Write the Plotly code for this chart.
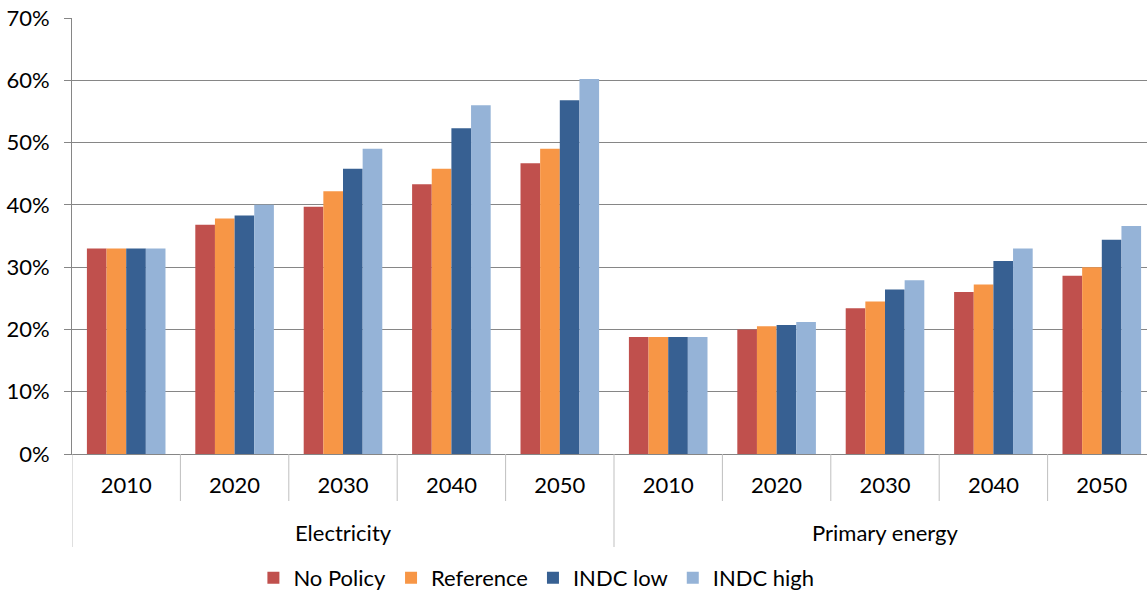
import plotly.graph_objects as go

years = ["2010", "2020", "2030", "2040", "2050"]
groups = ["Electricity", "Primary energy"]
series_names = ["No Policy", "Reference", "INDC low", "INDC high"]

no_policy = [33.0, 36.8, 39.7, 43.3, 46.7, 18.8, 20.0, 23.4, 26.0, 28.6]
reference = [33.0, 37.8, 42.2, 45.8, 49.0, 18.8, 20.5, 24.5, 27.2, 30.0]
indc_low = [33.0, 38.3, 45.8, 52.3, 56.8, 18.8, 20.7, 26.4, 31.0, 34.4]
indc_high = [33.0, 40.0, 49.0, 56.0, 60.2, 18.8, 21.2, 27.9, 33.0, 36.6]

y_ticks = [0, 10, 20, 30, 40, 50, 60, 70]
y_tick_text = [f"{v}%" for v in y_ticks]

colors = ["#C0504D", "#F79646", "#376092", "#95B3D7"]

FONT = "Lato"
W, H = 1147, 592
ML, MT, MB, MR = 72, 18, 138, 0
plot_h = H - MT - MB
cat_w = 108.4
x_end = -0.5 + (W - ML - MR) / cat_w

labels = years + years
xpos = list(range(len(labels)))

fig = go.Figure()
for name, vals, col in zip(series_names, [no_policy, reference, indc_low, indc_high], colors):
    fig.add_trace(go.Bar(
        x=xpos, y=vals, name=name,
        marker=dict(color=col, line=dict(width=0)),
        hovertemplate="%{y:.1f}%<extra>" + name + "</extra>",
    ))

def py(px_y):
    # pixel y (from top of page) -> paper coordinate
    return -(px_y - (H - MB)) / plot_h

shapes = []
grey_sep = "#BFBFBF"
for i in range(len(labels) - 1):
    if i == 4:
        continue
    shapes.append(dict(type="line", xref="x", yref="paper",
                       x0=i + 0.5, x1=i + 0.5, y0=0, y1=py(501),
                       line=dict(color=grey_sep, width=1)))
for xv in [-0.5, 4.5]:
    shapes.append(dict(type="line", xref="x", yref="paper",
                       x0=xv, x1=xv, y0=0, y1=py(547),
                       line=dict(color=grey_sep, width=1)))

annotations = []
for gi, g in enumerate(groups):
    annotations.append(dict(text=g, x=gi * 5 + 2, xref="x", y=py(532), yref="paper",
                            showarrow=False, xanchor="center", yanchor="middle",
                            font=dict(family=FONT, size=22, color="#000000")))

fig.update_layout(
    width=W, height=H,
    margin=dict(l=ML, r=MR, t=MT, b=MB, pad=0),
    paper_bgcolor="white", plot_bgcolor="white",
    barmode="group", bargap=0.275, bargroupgap=0,
    font=dict(family=FONT, size=22, color="#000000"),
    shapes=shapes, annotations=annotations,
    legend=dict(orientation="h", x=0.432, xanchor="center", xref="paper",
                y=(H - 578) / H, yanchor="middle", yref="container",
                font=dict(family=FONT, size=22, color="#000000"),
                itemwidth=30, traceorder="normal", bgcolor="rgba(0,0,0,0)"),
    xaxis=dict(range=[-0.5, x_end], tickmode="array", tickvals=xpos, ticktext=labels,
               showgrid=False, zeroline=False, showline=True, linecolor="#868686", linewidth=1,
               ticks="", ticklabelstandoff=12, automargin=False,
               tickfont=dict(family=FONT, size=22, color="#000000"), fixedrange=True),
    yaxis=dict(range=[0, 70], tickmode="array", tickvals=y_ticks, ticktext=y_tick_text,
               showgrid=True, gridcolor="#868686", gridwidth=1, zeroline=False,
               showline=True, linecolor="#868686", linewidth=1, automargin=False,
               ticks="outside", ticklen=7, tickcolor="#868686", ticklabelstandoff=10,
               tickfont=dict(family=FONT, size=22, color="#000000"), fixedrange=True),
)

fig.write_html("out.html")
